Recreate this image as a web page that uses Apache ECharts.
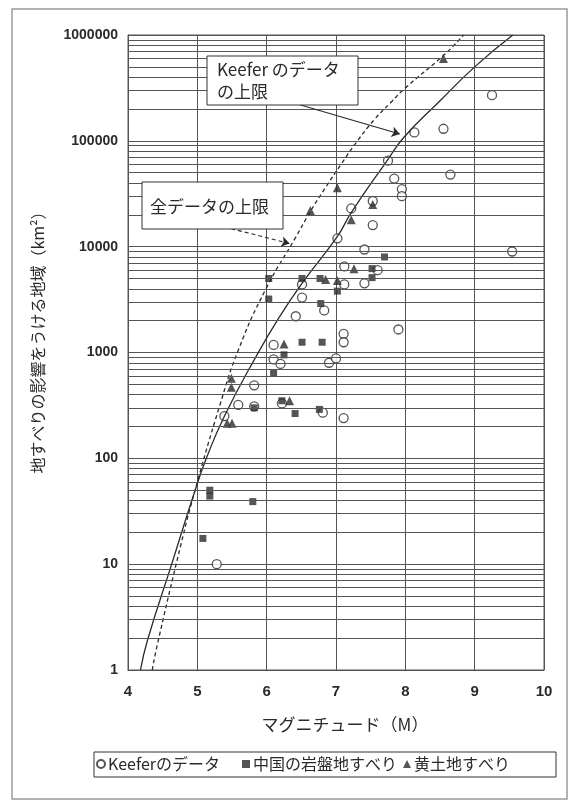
<!DOCTYPE html>
<html><head><meta charset="utf-8">
<script src="https://cdn.jsdelivr.net/npm/echarts@6/dist/echarts.min.js"></script>
<style>html,body{margin:0;padding:0;background:#fff}#c{width:578px;height:802px}</style>
</head><body><div id="c"></div>
<script>
// ---- data ----
const xTicks = [4, 5, 6, 7, 8, 9, 10];
const yTicks = [1, 10, 100, 1000, 10000, 100000, 1000000];
const seriesNames = ['Keeferのデータ', '中国の岩盤地すべり', '黄土地すべり'];
const keeferPoints = [[9.25,270000],[8.55,130000],[8.13,120000],[7.75,65000],[7.84,44000],[7.95,35000],[7.95,30000],[8.65,48000],[9.54,9000],[7.53,27000],[7.22,23000],[7.53,16000],[7.02,12000],[7.41,9400],[7.12,6500],[7.6,6000],[7.41,4500],[7.12,4400],[6.51,4400],[6.51,3300],[6.83,2500],[6.42,2200],[7.9,1650],[7.11,1500],[7.11,1250],[6.9,800],[7.0,880],[6.1,1180],[6.1,860],[6.2,780],[5.82,490],[5.59,320],[5.82,310],[5.39,250],[6.22,330],[6.81,270],[7.11,240],[5.28,10]];
const chinaRockPoints = [[6.03,5000],[6.03,3200],[6.51,5000],[6.77,5000],[6.78,2900],[7.02,3800],[7.7,8000],[7.52,6200],[7.52,5100],[6.51,1250],[6.8,1250],[6.25,950],[6.1,640],[5.82,300],[6.22,350],[6.41,265],[6.76,290],[5.18,50],[5.18,44],[5.8,39],[5.08,17.5]];
const loessPoints = [[8.55,600000],[7.02,36000],[6.63,22000],[7.22,18000],[7.53,25000],[7.02,4800],[7.26,6200],[6.85,4900],[6.25,1200],[6.33,350],[5.49,570],[5.49,470],[5.43,215],[5.5,215]];
const keeferUpperM = [4.18,4.28,4.63,4.96,5.13,5.39,5.84,6.18,6.52,7.02,7.22,7.73,7.98,8.49,9.0,9.55];
const keeferUpperA = [1,1.9,10,48,100,250,900,2150,4600,12500,21000,64000,108000,235000,500000,1000000];
const allUpperM = [4.35,4.42,4.76,4.96,5.32,5.59,5.99,6.42,6.63,6.84,7.08,7.31,7.55,7.79,8.0,8.56,8.84];
const allUpperA = [1,1.7,15,48,310,1050,4000,12300,21500,35500,61000,100000,158000,230000,316000,650000,1000000];
const annotations = ['Keefer のデータ', 'の上限', '全データの上限'];
const xTitle = 'マグニチュード（M）';
const yTitle = '地すべりの影響をうける地域（km²）';

// minor log gridlines 2..9 in each decade
const minorGrid = [];
yTicks.slice(0, -1).forEach(d => { for (let k = 2; k <= 9; k++) minorGrid.push(d * k); });

const ink = '#2a2a2a';
const gridCol = '#555';
const numFont = '"Liberation Sans", Arial, sans-serif';
const jpFont = '"Noto Sans CJK JP", sans-serif';

const chart = echarts.init(document.getElementById('c'), null, {renderer: 'canvas'});
const option = {
  backgroundColor: '#fff',
  animation: false,
  grid: {left: 128, right: 34, top: 35, bottom: 132, show: true, borderColor: gridCol, borderWidth: 1},
  xAxis: {
    type: 'value', min: 4, max: 10, interval: 1,
    axisLine: {show: true, lineStyle: {color: gridCol}},
    axisTick: {show: false},
    splitLine: {show: true, lineStyle: {color: gridCol, width: 1}},
    axisLabel: {margin: 14, fontSize: 15, fontWeight: 'bold', color: ink, fontFamily: numFont},
    name: xTitle, nameLocation: 'middle', nameGap: 46,
    nameTextStyle: {fontSize: 17, color: ink, fontFamily: jpFont, padding: [0, 0, 0, 18]}
  },
  yAxis: {
    type: 'log', logBase: 10, min: 1, max: 1000000, splitNumber: 6,
    axisLine: {show: true, lineStyle: {color: gridCol}},
    axisTick: {show: false},
    splitLine: {show: true, lineStyle: {color: gridCol, width: 1}},
    axisLabel: {margin: 10, fontSize: 14, fontWeight: 'bold', color: ink, fontFamily: numFont,
      formatter: v => String(Math.round(v))},
    name: yTitle, nameLocation: 'middle', nameGap: 82, nameRotate: 90,
    nameTextStyle: {fontSize: 16, color: ink, fontFamily: jpFont, padding: [0, 0, 0, 28]}
  },
  legend: [
    {data: [seriesNames[0]], left: 96, top: 756},
    {data: [seriesNames[1]], left: 242, top: 756},
    {data: [seriesNames[2]], left: 403, top: 756}
  ].map(l => Object.assign(l, {
    itemWidth: 8, itemHeight: 8, itemGap: 4, padding: 0,
    textStyle: {fontSize: 16, color: ink, fontFamily: jpFont, padding: [0, 0, 0, -2]}
  })),
  graphic: [
    {type: 'rect', z: 0, silent: true, shape: {x: 12, y: 9, width: 555, height: 790},
      style: {fill: 'none', stroke: '#9a9a9a', lineWidth: 1.5}},
    {type: 'rect', z: 0, silent: true, shape: {x: 94, y: 752, width: 462, height: 25},
      style: {fill: 'none', stroke: '#333', lineWidth: 1}},
    {type: 'rect', z: 100, silent: true, shape: {x: 207, y: 56, width: 151, height: 49},
      style: {fill: '#fff', stroke: '#333', lineWidth: 1}},
    {type: 'text', z: 101, silent: true, x: 217, y: 70,
      style: {text: annotations[0], fill: ink, font: '17px ' + jpFont, textVerticalAlign: 'middle'}},
    {type: 'text', z: 101, silent: true, x: 217, y: 92,
      style: {text: annotations[1], fill: ink, font: '17px ' + jpFont, textVerticalAlign: 'middle'}},
    {type: 'rect', z: 100, silent: true, shape: {x: 142, y: 182, width: 141, height: 47},
      style: {fill: '#fff', stroke: '#333', lineWidth: 1}},
    {type: 'text', z: 101, silent: true, x: 150, y: 207,
      style: {text: annotations[2], fill: ink, font: '17px ' + jpFont, textVerticalAlign: 'middle'}}
  ],
  series: [
    {
      type: 'line', name: 'grid', data: [], silent: true,
      markLine: {silent: true, symbol: 'none', label: {show: false},
        lineStyle: {color: gridCol, width: 1, type: 'solid'},
        data: minorGrid.map(v => ({yAxis: v}))}
    },
    {
      type: 'line', name: 'allUpper', smooth: 0.5, showSymbol: false, symbol: 'none', silent: true,
      lineStyle: {color: ink, width: 1.3, type: [4, 3]},
      data: allUpperM.map((m, i) => [m, allUpperA[i]]),
      markLine: {silent: true, symbol: ['none', 'arrow'], symbolSize: 8, label: {show: false},
        lineStyle: {color: ink, width: 1.2, type: [4, 3]},
        data: [[{coord: [5.39, 15400]}, {coord: [6.33, 10700]}]]}
    },
    {
      type: 'line', name: 'keeferUpper', smooth: 0.5, showSymbol: false, symbol: 'none', silent: true,
      lineStyle: {color: ink, width: 1.3},
      data: keeferUpperM.map((m, i) => [m, keeferUpperA[i]]),
      markLine: {silent: true, symbol: ['none', 'arrow'], symbolSize: 8, label: {show: false},
        lineStyle: {color: ink, width: 1.2, type: 'solid'},
        data: [[{coord: [6.39, 228000]}, {coord: [7.92, 116000]}]]}
    },
    {
      type: 'scatter', name: seriesNames[0], symbol: 'circle', symbolSize: 9,
      itemStyle: {color: '#fff', borderColor: ink, borderWidth: 1.3},
      data: keeferPoints
    },
    {
      type: 'scatter', name: seriesNames[1], symbol: 'rect', symbolSize: 7,
      itemStyle: {color: ink},
      data: chinaRockPoints
    },
    {
      type: 'scatter', name: seriesNames[2], symbol: 'triangle', symbolSize: 9,
      itemStyle: {color: ink},
      data: loessPoints
    }
  ]
};
chart.setOption(option);
</script>
</body></html>
